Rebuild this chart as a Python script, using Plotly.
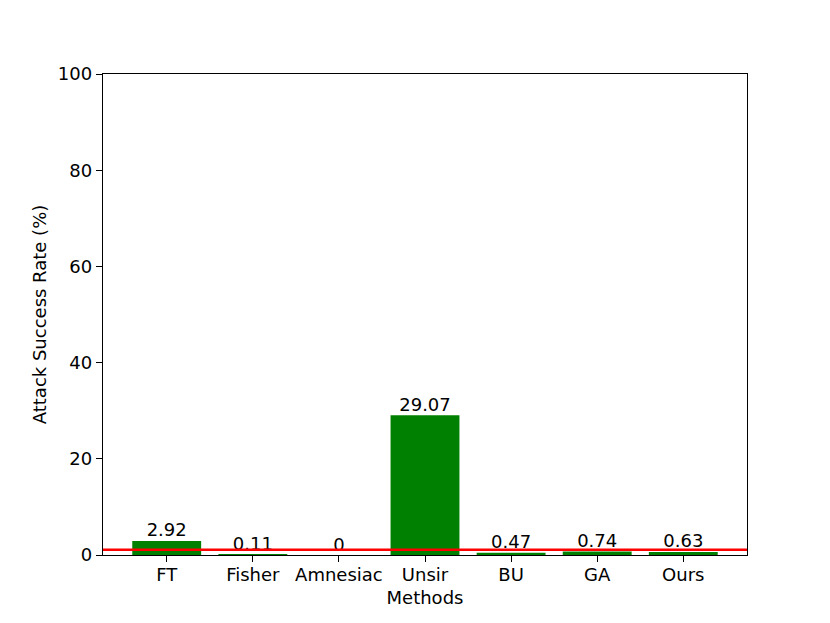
import plotly.graph_objects as go

methods = ['FT', 'Fisher', 'Amnesiac', 'Unsir', 'BU', 'GA', 'Ours']
asr = [2.92, 0.11, 0, 29.07, 0.47, 0.74, 0.63]
labels = ['2.92', '0.11', '0', '29.07', '0.47', '0.74', '0.63']
threshold = 1.1

FONT = 'DejaVu Sans'
FS = 18

fig = go.Figure()

fig.add_trace(go.Bar(
    x=methods, y=asr, marker_color='green', marker_line_width=0,
    width=0.8, showlegend=False
))

# value labels just above each bar
fig.add_trace(go.Scatter(
    x=methods, y=asr, mode='text', text=labels, textposition='top center',
    textfont=dict(family=FONT, size=FS, color='black'),
    showlegend=False, cliponaxis=False
))

# red threshold line across the axes
fig.add_shape(type='line', xref='paper', x0=0, x1=1, yref='y',
              y0=threshold, y1=threshold, line=dict(color='red', width=2.5))

# page body has an 8px margin, so shift everything up/left by 8
fig.update_layout(
    width=830, height=623,
    margin=dict(l=95, r=91, t=66, b=76),
    paper_bgcolor='white', plot_bgcolor='white',
    font=dict(family=FONT, size=FS, color='black'),
    bargap=0.2,
)
fig.update_xaxes(
    range=[-0.74, 6.74], showgrid=False, showline=True, mirror=True,
    linecolor='black', linewidth=1.4, ticks='outside', ticklen=6,
    tickcolor='black', tickwidth=1.2, ticklabelstandoff=-3,
    title=dict(text='Methods', standoff=7, font=dict(family=FONT, size=FS)),
    tickfont=dict(family=FONT, size=FS)
)
fig.update_yaxes(
    range=[0, 100], tickvals=[0, 20, 40, 60, 80, 100], showgrid=False,
    zeroline=False, showline=True, mirror=True, linecolor='black',
    linewidth=1.4, ticks='outside', ticklen=6, tickcolor='black', tickwidth=1.2,
    title=dict(text='Attack Success Rate (%)', standoff=6,
               font=dict(family=FONT, size=FS)),
    tickfont=dict(family=FONT, size=FS)
)

fig.write_html('out.html')
